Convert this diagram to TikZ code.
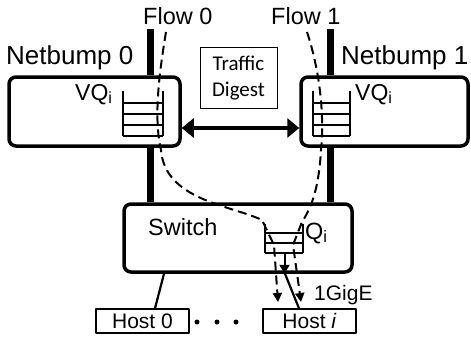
\documentclass[tikz,border=0pt]{standalone}
\usepackage{fontspec}
\setmainfont{Liberation Sans}
\newfontfamily\digestfont{Carlito}
\usetikzlibrary{arrows.meta}
\def\barwidth{7pt}

\begin{document}
\begin{tikzpicture}[x=1pt,y=-1pt,line join=round]
		\tikzstyle{bump}=[draw,line width=3.5pt,rounded corners=7pt,inner sep=0pt]
		\tikzstyle{host}=[draw,line width=1.3pt,minimum width=93pt,minimum height=24pt,inner sep=0pt,font=\fontsize{21}{24}\selectfont]
		\tikzstyle{txt}=[inner sep=0pt,anchor=base west,font=\fontsize{23.5}{28}\selectfont]
		\tikzstyle{big txt}=[txt,font=\fontsize{26}{30}\selectfont]
		\tikzstyle{wire}=[line width=\barwidth]
		\tikzstyle{flow}=[line width=2pt,dash pattern=on 9pt off 5pt,-{Triangle[length=9pt,width=9pt]}]
		\tikzstyle{queue}=[line width=1.4pt]
		
		\useasboundingbox (0,0) rectangle (471,337);
		
		% Draw the netbump and switch boxes
		\node[bump,minimum width=171pt,minimum height=69pt] (nb0) at (94.5,111.5) {};
		\node[bump,minimum width=167pt,minimum height=69pt] (nb1) at (384.5,111.5) {};
		\node[bump,minimum width=228pt,minimum height=68pt] (sw) at (238,238) {};
		
		% Draw the host boxes
		\node[host] (host0) at (142.5,321) {Host 0};
		\node[host] (hosti) at (309.5,321) {Host \textit{i}};
		\foreach \x in {197,217,236}
		\fill (\x,322) circle (2.5);
		
		% Draw the digest box
		\node[draw,line width=1pt,minimum width=77pt,minimum height=60pt,inner sep=0pt,align=center,
			font=\digestfont\fontsize{21}{26}\selectfont] (digest) at (238.5,78) {Traffic\\Digest};
		
		% Draw the links
		\coordinate (in0) at (150,29);
		\coordinate (in1) at (330,29);
		\draw[wire] (in0) -- (in0 |- nb0.north);
		\draw[wire] (in0 |- nb0.south) -- (in0 |- sw.north);
		\draw[wire] (in1) -- (in1 |- nb1.north);
		\draw[wire] (in1 |- nb1.south) -- (in1 |- sw.north);
		\draw[line width=4pt,{Triangle[length=12pt,width=19pt]}-{Triangle[length=12pt,width=19pt]}]
		([yshift=-16.5pt]nb0.east) -- ([yshift=-16.5pt]nb1.west);
		\draw[line width=2.2pt] ([xshift=-74pt]sw.south) -- ([xshift=12.5pt]host0.north);
		\draw[line width=2.2pt] ([xshift=47pt]sw.south) -- ([xshift=-10.5pt]hosti.north);
		
		% Draw the queues
		\foreach \x/\w in {123/40,313/37}{
			\draw[queue] (\x,91) -- (\x,136) (\x+\w,91) -- (\x+\w,136);
			\foreach \y in {103,114,125,136}
			\draw[queue] (\x,\y) -- (\x+\w,\y);
		}
		\draw[queue] (265,224) -- (265,253) (303,224) -- (303,253);
		\foreach \y in {233,243,253}
		\draw[queue] (265,\y) -- (303,\y);
		\coordinate (qout) at (284.5,253);
		\draw[line width=2pt,-{Triangle[length=9pt,width=10pt]}] (qout) -- (qout |- sw.south);
		
		% Draw the flows
		\coordinate (f0) at (166,32);
		\coordinate (f1) at (307,32);
		\draw[flow] (f0) .. controls (158,80) and (154,120) .. (161,150)
		.. controls (165,200) and (230,205) .. (262,220) -- (274,245) -- (278,302);
		\draw[flow] (f1) .. controls (318,65) and (325,110) .. (321,150)
		.. controls (319,185) and (313,205) .. (302,222) -- (293,245) -- (301,302);
		
		% Annotate the boxes
		\node[txt] (flow0) at (143,25) {Flow 0};
		\node[txt] (flow1) at (271,25) {Flow 1};
		\node[big txt] (name0) at (6,65) {Netbump 0};
		\node[big txt] (name1) at (341,65) {Netbump 1};
		\node[txt,font=\fontsize{23}{28}\selectfont] (vq0) at (75,100) {VQ\textsubscript{i}};
		\node[txt,font=\fontsize{23}{28}\selectfont] (vq1) at (355,100) {VQ\textsubscript{i}};
		\node[txt] (swname) at (148,235) {Switch};
		\node[txt] (q) at (305,239) {Q\textsubscript{i}};
		\node[txt,font=\fontsize{21}{24}\selectfont] (link) at (314,300) {1GigE};
\end{tikzpicture}
\end{document}
